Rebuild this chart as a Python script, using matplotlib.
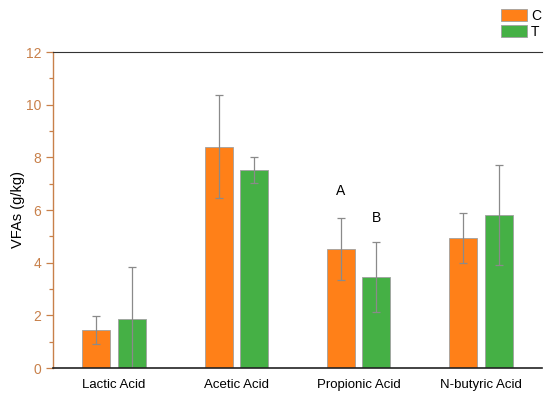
import numpy as np
import matplotlib
matplotlib.use('Agg')
import matplotlib.pyplot as plt
from matplotlib.ticker import MultipleLocator

plt.rcParams['font.family'] = ['Liberation Sans', 'DejaVu Sans']

# 数据
categories = ['Lactic Acid', 'Acetic Acid', 'Propionic Acid', 'N-butyric Acid']
c_mean = [1.45, 8.41, 4.52, 4.93]
c_err = [0.52, 1.96, 1.17, 0.95]
t_mean = [1.87, 7.52, 3.46, 5.82]
t_err = [1.95, 0.50, 1.32, 1.90]
letters = {'C': (2, 'A'), 'T': (2, 'B')}

axis_col = '#c8804a'

fig = plt.figure(figsize=(5.5, 4.0), dpi=100)
ax = fig.add_axes([53/550, 32/400, 489/550, 316/400])

x = np.arange(1, len(categories) + 1)
off = 0.145
w = 0.23
ekw = dict(ecolor='#8a8a8a', elinewidth=0.9, capsize=3, capthick=0.9)
ax.bar(x - off, c_mean, w, yerr=c_err, color='#ff8018', edgecolor='#a0a0a0',
       linewidth=0.6, label='C', error_kw=ekw)
ax.bar(x + off, t_mean, w, yerr=t_err, color='#45b045', edgecolor='#a0a0a0',
       linewidth=0.6, label='T', error_kw=ekw)

# 显著性字母
i, s = letters['C']
ax.text(x[i] - off, c_mean[i] + c_err[i] + 0.75, s, ha='center', va='bottom', fontsize=10)
i, s = letters['T']
ax.text(x[i] + off, t_mean[i] + t_err[i] + 0.65, s, ha='center', va='bottom', fontsize=10)

ax.set_xlim(0.5, 4.5)
ax.set_ylim(0, 12)
ax.set_xticks(x)
ax.set_xticklabels(categories, fontsize=9.5)
ax.tick_params(axis='x', length=0, pad=8)
ax.yaxis.set_major_locator(MultipleLocator(2))
ax.yaxis.set_minor_locator(MultipleLocator(1))
ax.tick_params(axis='y', which='major', colors=axis_col, labelcolor=axis_col,
               labelsize=10, length=5, width=0.9, direction='out')
ax.tick_params(axis='y', which='minor', colors=axis_col, length=3, width=0.9)
ax.set_ylabel('VFAs (g/kg)', fontsize=10.5)
ax.yaxis.set_label_coords(-0.058, 0.5)

ax.spines['left'].set_color(axis_col)
ax.spines['left'].set_linewidth(1.0)
ax.spines['right'].set_visible(False)
ax.spines['top'].set_color('#333333')
ax.spines['bottom'].set_color('#222222')
ax.spines['bottom'].set_linewidth(1.2)

ax.legend(loc='lower right', bbox_to_anchor=(1.012, 1.02), frameon=False,
          fontsize=10, handlelength=1.85, handleheight=0.9, handletextpad=0.3,
          labelspacing=0.15, borderpad=0)

fig.savefig('out.png', dpi=100)
